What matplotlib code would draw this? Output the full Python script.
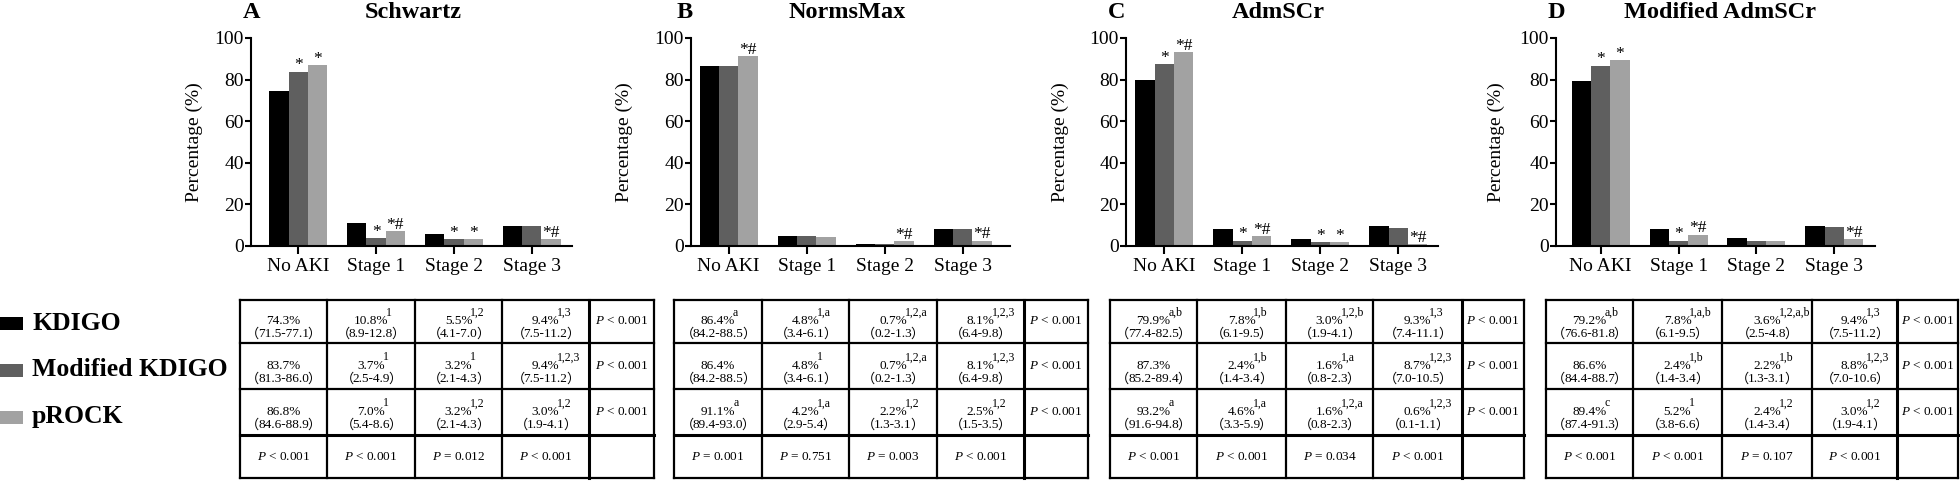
import matplotlib
matplotlib.use('Agg')
import matplotlib.pyplot as plt
import numpy as np
from matplotlib.patches import Rectangle

SERIF = ['Liberation Serif', 'Noto Sans CJK SC']
plt.rcParams['mathtext.fontset'] = 'custom'
plt.rcParams['mathtext.rm'] = 'Liberation Serif'
plt.rcParams['mathtext.it'] = 'Liberation Serif:italic'

# ---------------- data ----------------
categories = ['No AKI', 'Stage 1', 'Stage 2', 'Stage 3']
series_names = ['KDIGO', 'Modified KDIGO', 'pROCK']
series_colors = ['#000000', '#5f5f5f', '#a2a2a2']
panel_letters = ['A', 'B', 'C', 'D']
panel_titles = ['Schwartz', 'NormsMax', 'AdmSCr', 'Modified AdmSCr']
y_ticks = [0, 20, 40, 60, 80, 100]

# Schwartz
schwartz_kdigo = [74.3, 10.8, 5.5, 9.4]
schwartz_mod = [83.7, 3.7, 3.2, 9.4]
schwartz_prock = [86.8, 7.0, 3.2, 3.0]
schwartz_ci = [['71.5-77.1', '8.9-12.8', '4.1-7.0', '7.5-11.2'],
               ['81.3-86.0', '2.5-4.9', '2.1-4.3', '7.5-11.2'],
               ['84.6-88.9', '5.4-8.6', '2.1-4.3', '1.9-4.1']]
schwartz_sup = [['', '1', '1,2', '1,3'],
                ['', '1', '1', '1,2,3'],
                ['', '1', '1,2', '1,2']]
schwartz_row_p = ['P < 0.001', 'P < 0.001', 'P < 0.001']
schwartz_col_p = ['P < 0.001', 'P < 0.001', 'P = 0.012', 'P < 0.001']
schwartz_marks = [['', '', '', ''], ['*', '*', '*', ''], ['*', '*#', '*', '*#']]

# NormsMax
normsmax_kdigo = [86.4, 4.8, 0.7, 8.1]
normsmax_mod = [86.4, 4.8, 0.7, 8.1]
normsmax_prock = [91.1, 4.2, 2.2, 2.5]
normsmax_ci = [['84.2-88.5', '3.4-6.1', '0.2-1.3', '6.4-9.8'],
               ['84.2-88.5', '3.4-6.1', '0.2-1.3', '6.4-9.8'],
               ['89.4-93.0', '2.9-5.4', '1.3-3.1', '1.5-3.5']]
normsmax_sup = [['a', '1,a', '1,2,a', '1,2,3'],
                ['', '1', '1,2,a', '1,2,3'],
                ['a', '1,a', '1,2', '1,2']]
normsmax_row_p = ['P < 0.001', 'P < 0.001', 'P < 0.001']
normsmax_col_p = ['P = 0.001', 'P = 0.751', 'P = 0.003', 'P < 0.001']
normsmax_marks = [['', '', '', ''], ['', '', '', ''], ['*#', '', '*#', '*#']]

# AdmSCr
admscr_kdigo = [79.9, 7.8, 3.0, 9.3]
admscr_mod = [87.3, 2.4, 1.6, 8.7]
admscr_prock = [93.2, 4.6, 1.6, 0.6]
admscr_ci = [['77.4-82.5', '6.1-9.5', '1.9-4.1', '7.4-11.1'],
             ['85.2-89.4', '1.4-3.4', '0.8-2.3', '7.0-10.5'],
             ['91.6-94.8', '3.3-5.9', '0.8-2.3', '0.1-1.1']]
admscr_sup = [['a,b', '1,b', '1,2,b', '1,3'],
              ['', '1,b', '1,a', '1,2,3'],
              ['a', '1,a', '1,2,a', '1,2,3']]
admscr_row_p = ['P < 0.001', 'P < 0.001', 'P < 0.001']
admscr_col_p = ['P < 0.001', 'P < 0.001', 'P = 0.034', 'P < 0.001']
admscr_marks = [['', '', '', ''], ['*', '*', '*', ''], ['*#', '*#', '*', '*#']]

# Modified AdmSCr
modadm_kdigo = [79.2, 7.8, 3.6, 9.4]
modadm_mod = [86.6, 2.4, 2.2, 8.8]
modadm_prock = [89.4, 5.2, 2.4, 3.0]
modadm_ci = [['76.6-81.8', '6.1-9.5', '2.5-4.8', '7.5-11.2'],
             ['84.4-88.7', '1.4-3.4', '1.3-3.1', '7.0-10.6'],
             ['87.4-91.3', '3.8-6.6', '1.4-3.4', '1.9-4.1']]
modadm_sup = [['a,b', '1,a,b', '1,2,a,b', '1,3'],
              ['', '1,b', '1,b', '1,2,3'],
              ['c', '1', '1,2', '1,2']]
modadm_row_p = ['P < 0.001', 'P < 0.001', 'P < 0.001']
modadm_col_p = ['P < 0.001', 'P < 0.001', 'P = 0.107', 'P < 0.001']
modadm_marks = [['', '', '', ''], ['*', '*', '', ''], ['*', '*#', '', '*#']]

panels = [
    dict(vals=[schwartz_kdigo, schwartz_mod, schwartz_prock], ci=schwartz_ci, sup=schwartz_sup,
         rowp=schwartz_row_p, colp=schwartz_col_p, marks=schwartz_marks),
    dict(vals=[normsmax_kdigo, normsmax_mod, normsmax_prock], ci=normsmax_ci, sup=normsmax_sup,
         rowp=normsmax_row_p, colp=normsmax_col_p, marks=normsmax_marks),
    dict(vals=[admscr_kdigo, admscr_mod, admscr_prock], ci=admscr_ci, sup=admscr_sup,
         rowp=admscr_row_p, colp=admscr_col_p, marks=admscr_marks),
    dict(vals=[modadm_kdigo, modadm_mod, modadm_prock], ci=modadm_ci, sup=modadm_sup,
         rowp=modadm_row_p, colp=modadm_col_p, marks=modadm_marks),
]

# ---------------- layout (pixels) ----------------
W, H = 1960, 482
axis_geo = [  # x0, x1, first tick, last tick, ylabel offset, letter x, title x
    (251, 572, 298.3, 531.7, 48, 252, 413),
    (691, 1010, 728.7, 962.7, 58, 685, 847),
    (1126, 1438, 1164.3, 1398.3, 57, 1117, 1278),
    (1556, 1875, 1600.7, 1834.3, 51, 1556, 1720),
]
y_top, y_bot = 38, 245.7
table_cols = [
    [240, 327, 415, 502, 589, 654],
    [674, 762, 849, 937, 1024, 1088],
    [1110, 1197, 1286, 1373, 1462, 1524],
    [1546, 1633, 1722, 1812, 1897, 1958],
]
table_rows = [300, 343, 389, 435, 478]

fig = plt.figure(figsize=(W / 100, H / 100), dpi=100)
ov = fig.add_axes([0, 0, 1, 1])
ov.set_xlim(0, W)
ov.set_ylim(H, 0)
ov.axis('off')


def ptxt(s):
    return s.replace('P', '$P$', 1)


CELL_FS = 9.5
bw = 0.248
for k, (p, geo) in enumerate(zip(panels, axis_geo)):
    x0, x1, ft, lt, ylo, lx, tx = geo
    ax = fig.add_axes([x0 / W, 1 - y_bot / H, (x1 - x0) / W, (y_bot - y_top) / H])
    sp = (lt - ft) / 3
    ax.set_xlim(-(ft - x0) / sp, 3 + (x1 - lt) / sp)
    ax.set_ylim(0, 100)
    xs = np.arange(len(categories))
    for i, vals in enumerate(p['vals']):
        ax.bar(xs + (i - 1) * bw, vals, width=bw, color=series_colors[i], linewidth=0)
        for j, m in enumerate(p['marks'][i]):
            if m:
                ax.text(xs[j] + (i - 1) * bw, vals[j] + 1.2, m, ha='center', va='baseline',
                        fontsize=12.5, family=SERIF, clip_on=False)
    ax.set_xticks(xs)
    ax.set_xticklabels(categories, family=SERIF, fontsize=14)
    ax.set_yticks(y_ticks)
    ax.set_yticklabels([str(v) for v in y_ticks], family=SERIF, fontsize=14)
    ax.tick_params(axis='y', length=4, width=1.5, pad=1)
    ax.tick_params(axis='x', length=6, width=1.5, pad=2.5)
    for s in ['top', 'right']:
        ax.spines[s].set_visible(False)
    for s in ['left', 'bottom']:
        ax.spines[s].set_linewidth(1.5)
    ax.patch.set_alpha(0)
    ax.set_ylabel('Percentage (%)', fontsize=14, family=SERIF)
    ax.yaxis.set_label_coords(-ylo / (x1 - x0), 0.5)

    ov.text(lx, 13, panel_letters[k], ha='center', va='center', fontsize=17.5,
            fontweight='bold', family=SERIF)
    ov.text(tx, 13, panel_titles[k], ha='center', va='center', fontsize=17.5,
            fontweight='bold', family=SERIF)

    # table
    cols = table_cols[k]
    rows = table_rows
    for r in range(3):
        top, bot = rows[r], rows[r + 1]
        h = bot - top
        for c in range(4):
            cx = (cols[c] + cols[c + 1]) / 2
            t = ov.text(cx, top + 0.49 * h, f"{p['vals'][r][c]:.1f}%", ha='center', va='center',
                        fontsize=CELL_FS, family=SERIF)
            t2 = ov.text(cx, top + 0.78 * h, p['ci'][r][c], ha='center', va='center',
                         fontsize=CELL_FS, family=SERIF)
            ov.annotate('（', xy=(0, 0.45), xycoords=t2, xytext=(1, 0), textcoords='offset points',
                        ha='right', va='center', fontsize=CELL_FS, family=SERIF)
            ov.annotate('）', xy=(1, 0.45), xycoords=t2, xytext=(-1, 0), textcoords='offset points',
                        ha='left', va='center', fontsize=CELL_FS, family=SERIF)
            if p['sup'][r][c]:
                ov.annotate(p['sup'][r][c], xy=(1, 1), xycoords=t, xytext=(-1.5, -0.5),
                            textcoords='offset points', ha='left', va='baseline', fontsize=8.5,
                            family=SERIF)
        ov.text((cols[4] + cols[5]) / 2, (top + bot) / 2, ptxt(p['rowp'][r]), ha='center',
                va='center', fontsize=CELL_FS, family=SERIF)
    for c in range(4):
        cx = (cols[c] + cols[c + 1]) / 2
        ov.text(cx, (rows[3] + rows[4]) / 2, ptxt(p['colp'][c]), ha='center', va='center',
                fontsize=CELL_FS, family=SERIF)
    for i, yy in enumerate(rows):
        lw = 2.2 if i in (3,) else 1.6
        ov.plot([cols[0], cols[-1]], [yy, yy], color='black', lw=lw, solid_capstyle='projecting')
    for i, xx in enumerate(cols):
        lw = 2.2 if i == 4 else 1.6
        ov.plot([xx, xx], [rows[0], rows[-1]], color='black', lw=lw, solid_capstyle='projecting')

# legend
leg_y = [323, 370, 417]
for name, col, yy in zip(series_names, series_colors, leg_y):
    ov.add_patch(Rectangle((0, yy - 6.5), 23, 13, color=col, lw=0))
    ov.text(32, yy, name, ha='left', va='center', fontsize=18.5, fontweight='bold', family=SERIF)

fig.savefig('out.png', dpi=100)
